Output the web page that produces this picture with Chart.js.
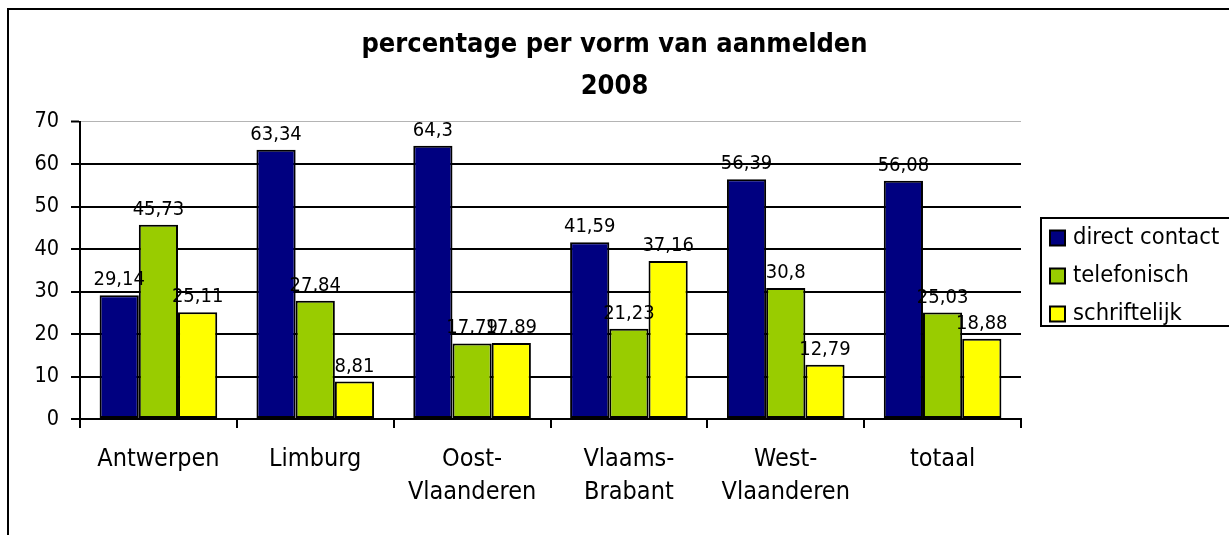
<!DOCTYPE html>
<html>
<head>
<meta charset="utf-8">
<script src="https://cdn.jsdelivr.net/npm/chart.js@4.4.1/dist/chart.umd.min.js"></script>
<style>
  html, body { margin: 0; padding: 0; background: #fff; }
  #wrap { position: relative; width: 1229px; height: 535px; }
</style>
</head>
<body>
<div id="wrap"><canvas id="chart"></canvas></div>
<script>
const categories = ["Antwerpen", "Limburg", ["Oost-", "Vlaanderen"], ["Vlaams-", "Brabant"], ["West-", "Vlaanderen"], "totaal"];
const directContact = [29.14, 63.34, 64.3, 41.59, 56.39, 56.08];
const telefonisch = [45.73, 27.84, 17.79, 21.23, 30.8, 25.03];
const schriftelijk = [25.11, 8.81, 17.89, 37.16, 12.79, 18.88];
const yTicks = [0, 10, 20, 30, 40, 50, 60, 70];
const seriesNames = ["direct contact", "telefonisch", "schriftelijk"];
const seriesColors = ["#000080", "#99CC00", "#FFFF00"];
const titleLines = ["percentage per vorm van aanmelden", "2008"];

const FONT = '"DejaVu Sans Condensed", "DejaVu Sans", sans-serif';

// numbers above the bars, Dutch decimal comma
const valueLabels = {
    id: "valueLabels",
    afterDatasetsDraw(chart) {
        const ctx = chart.ctx;
        ctx.save();
        ctx.font = "20px " + FONT;
        ctx.fillStyle = "#000";
        ctx.textAlign = "center";
        ctx.textBaseline = "alphabetic";
        chart.data.datasets.forEach((ds, i) => {
            chart.getDatasetMeta(i).data.forEach((bar, j) => {
                const txt = String(ds.data[j]).replace(".", ",");
                ctx.fillText(txt, bar.x, bar.y - 10);
            });
        });
        ctx.restore();
    }
};

// outer frame + boxed legend on the right
const boxLegend = {
    id: "boxLegend",
    afterDraw(chart) {
        const ctx = chart.ctx;
        ctx.save();
        ctx.strokeStyle = "#000";
        ctx.lineWidth = 2;
        ctx.strokeRect(8, 9, 1300, 700);

        const lx = chart.chartArea.right + 20;
        const ly = 218;
        ctx.strokeRect(lx, ly, 300, 108);

        ctx.font = "23.5px " + FONT;
        ctx.textBaseline = "middle";
        ctx.textAlign = "left";
        chart.data.datasets.forEach((ds, i) => {
            const y = ly + 20 + i * 38;
            ctx.fillStyle = ds.backgroundColor;
            ctx.fillRect(lx + 9, y - 7.5, 15, 15);
            ctx.strokeRect(lx + 9, y - 7.5, 15, 15);
            ctx.fillStyle = "#000";
            ctx.fillText(ds.label, lx + 32, y);
        });
        ctx.restore();
    }
};

const seriesData = [directContact, telefonisch, schriftelijk];

new Chart(document.getElementById("chart"), {
    type: "bar",
    data: {
        labels: categories,
        datasets: seriesData.map((d, i) => ({
            label: seriesNames[i],
            data: d,
            backgroundColor: seriesColors[i],
            borderColor: "#000",
            borderWidth: 2,
            borderSkipped: false,
            categoryPercentage: 0.75,
            barPercentage: 1
        }))
    },
    options: {
        responsive: true,
        maintainAspectRatio: false,
        animation: false,
        layout: { padding: 0 },
        plugins: {
            legend: { display: false },
            tooltip: { enabled: false },
            title: {
                display: true,
                text: titleLines,
                color: "#000",
                font: { family: FONT, size: 27, weight: "bold", lineHeight: "42px" },
                padding: { top: 24, bottom: 13.5 }
            }
        },
        scales: {
            x: {
                afterFit: (s) => { s.height = 116; },
                grid: {
                    drawOnChartArea: false,
                    drawTicks: true,
                    tickLength: 9,
                    color: "#000",
                    lineWidth: 2
                },
                border: { color: "#000", width: 2 },
                ticks: {
                    color: "#000",
                    padding: 15,
                    maxRotation: 0,
                    autoSkip: false,
                    font: { family: FONT, size: 25, lineHeight: 1.32 }
                }
            },
            y: {
                min: 0,
                max: 70,
                afterFit: (s) => { s.width = 80; },
                afterBuildTicks: (s) => { s.ticks = yTicks.map(v => ({ value: v })); },
                grid: {
                    color: (c) => (c.tick && c.tick.value === 70 ? "#b4b4b4" : "#000"),
                    lineWidth: (c) => (c.tick && c.tick.value === 70 ? 1 : 2),
                    tickColor: "#000",
                    tickWidth: 2,
                    tickLength: 9
                },
                border: { color: "#000", width: 2 },
                ticks: {
                    color: "#000",
                    padding: 12,
                    font: { family: FONT, size: 21.5 }
                }
            },
            // empty right-hand strip that leaves room for the legend box
            legendSpace: {
                type: "linear",
                position: "right",
                afterFit: (s) => { s.width = 208; },
                grid: { display: false },
                border: { display: false },
                ticks: { display: false }
            }
        }
    },
    plugins: [valueLabels, boxLegend]
});
</script>
</body>
</html>
